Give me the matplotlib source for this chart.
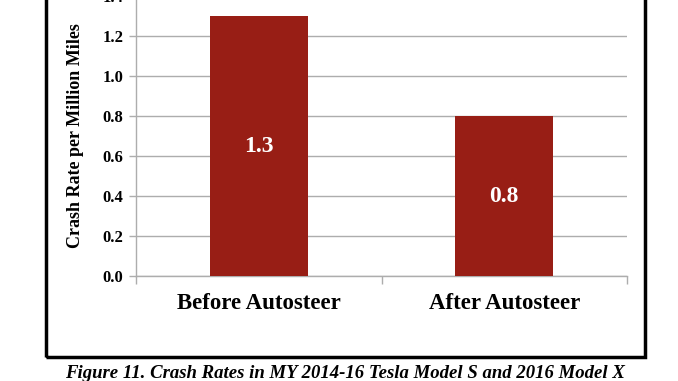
import matplotlib.pyplot as plt
from matplotlib.patches import Rectangle

categories = ["Before Autosteer", "After Autosteer"]
crash_rates = [1.3, 0.8]
yticks = [0.0, 0.2, 0.4, 0.6, 0.8, 1.0, 1.2, 1.4]

plt.rcParams['font.family'] = ['Liberation Serif', 'DejaVu Serif']
plt.rcParams['font.weight'] = 'bold'

fig = plt.figure(figsize=(6.78, 3.81), dpi=100)
ax = fig.add_axes([136/678, 1 - 276/381, 491/678, 280/381])

grey = '#ADADAD'
x = range(len(categories))
ax.bar(x, crash_rates, width=0.4, color='#981E15', zorder=3)
for i, v in zip(x, crash_rates):
    ax.text(i, v / 2, f"{v:.1f}", ha='center', va='center', color='white',
            fontsize=17, fontweight='bold', zorder=4)

ax.set_xlim(-0.5, 1.5)
ax.set_ylim(0, 1.4)
ax.set_yticks(yticks)
ax.set_yticklabels([f"{t:.1f}" for t in yticks], fontsize=12, fontweight='bold')
ax.set_xticks(list(x))
ax.set_xticklabels(categories, fontsize=16.5, fontweight='bold')
ax.set_xticks([-0.5, 0.5, 1.5], minor=True)
ax.tick_params(axis='x', which='major', length=0, pad=12)
ax.tick_params(axis='x', which='minor', length=6, color=grey, width=1)
ax.tick_params(axis='y', length=5, color=grey, width=1, pad=4)
ax.yaxis.grid(True, color=grey, linewidth=1, zorder=0)
ax.set_axisbelow(True)
for s in ['top', 'right']:
    ax.spines[s].set_visible(False)
for s in ['left', 'bottom']:
    ax.spines[s].set_color(grey)
    ax.spines[s].set_linewidth(1)

ax.set_ylabel("Crash Rate per Million Miles", fontsize=13, fontweight='bold', labelpad=13)

# outer frame of the figure box
fig.patches.append(Rectangle((46/678, 1 - 357/381), 599/678, 0.2 + 357/381,
                             transform=fig.transFigure, fill=False,
                             edgecolor='black', linewidth=2.5, clip_on=False))

fig.text(345/678, 1 - 373/381,
         "Figure 11. Crash Rates in MY 2014-16 Tesla Model S and 2016 Model X",
         ha='center', va='center', fontsize=13.5, fontweight='bold', style='italic')

fig.savefig("out.png", dpi=100)
